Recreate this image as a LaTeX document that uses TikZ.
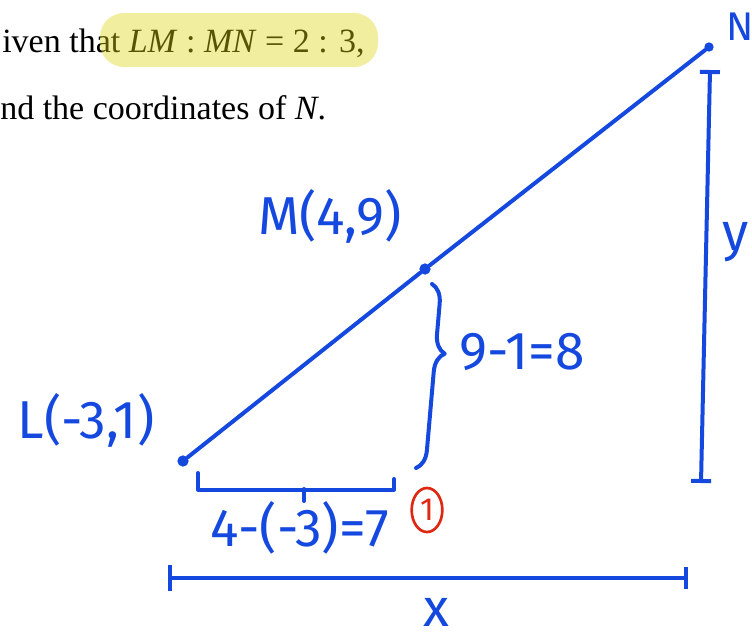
\documentclass[tikz,border=0pt]{standalone}
\usepackage{fontspec}
\setmainfont{Liberation Serif}
\newfontfamily\handfont{Fira Sans}
\usetikzlibrary{arrows.meta,decorations.pathreplacing,shapes.geometric}
\definecolor{pen}{RGB}{20,72,222}
\definecolor{redpen}{RGB}{222,40,18}
\definecolor{marker}{RGB}{222,212,17}

\begin{document}
\begin{tikzpicture}[x=0.75pt,y=-0.75pt]
  \tikzstyle{ink}=[draw=pen,line width=3pt,line cap=round,line join=round]
  \tikzstyle{hand}=[text=pen,font=\handfont\fontsize{40}{40}\selectfont,inner sep=0pt]
  \tikzstyle{book}=[font=\fontsize{25.5}{30}\selectfont,inner sep=0pt,anchor=base west]
  \tikzstyle{dot}=[circle,fill=pen,inner sep=0pt,minimum size=8.5pt]
  \useasboundingbox (0,0) rectangle (752,637);
  % question text, highlighted
  \node[book] (Q_1) at (2,52) {iven that \textit{LM} : \textit{MN} = 2 : 3,};
  \node[book] (Q_2) at (0,119) {nd the coordinates of \textit{N}.};
  \fill[marker,fill opacity=0.4,rounded corners=18pt] (100,13) rectangle (378,67);
  % the points
  \node[dot] (L) at (183,461) {};
  \node[dot] (M) at (425,269) {};
  \node[dot,minimum size=7pt] (N) at (709,47) {};
  \draw[ink] (L) -- (M) -- (N);
  \node[hand] (L_lab) at (86,420) {L(-3,1)};
  \node[hand] (M_lab) at (330,216) {M(4,9)};
  \node[hand,anchor=west,font=\handfont\fontsize{30}{30}\selectfont] (N_lab) at (726,27) {N};
  % differences
  \coordinate (B_1) at (432,284);
  \coordinate (B_2) at (416,468);
  \draw[ink,decorate,decoration={brace,amplitude=14pt,aspect=0.37}] (B_1) -- (B_2);
  \node[hand] (dy) at (522,352) {9-1=8};
  \coordinate (B_3) at (198,473);
  \coordinate (B_4) at (394,479);
  \coordinate (B_5) at (304,489);
  \draw[ink] (B_3) |- ([yshift=-8pt]B_4) -- (B_4);
  \draw[ink] (B_5) -- ++(0,12);
  \node[hand] (dx) at (300,528) {4-(-3)=7};
  \node[draw=redpen,line width=2pt,ellipse,minimum width=23pt,minimum height=33pt,
        inner sep=0pt,text=redpen,font=\handfont\fontsize{24}{24}\selectfont] (one) at (427,510) {1};
  % whole run and rise
  \coordinate (Y_1) at (710,70);
  \coordinate (Y_2) at (701,483);
  \draw[ink,{Bar[width=15pt]}-{Bar[width=15pt]}] (Y_1) -- (Y_2);
  \node[hand] (y_lab) at (736,242) {y};
  \coordinate (X_1) at (168,578);
  \coordinate (X_2) at (688,578);
  \draw[ink,{Bar[width=19pt]}-{Bar[width=17pt]}] (X_1) -- (X_2);
  \node[hand] (x_lab) at (436,612) {x};
\end{tikzpicture}
\end{document}
